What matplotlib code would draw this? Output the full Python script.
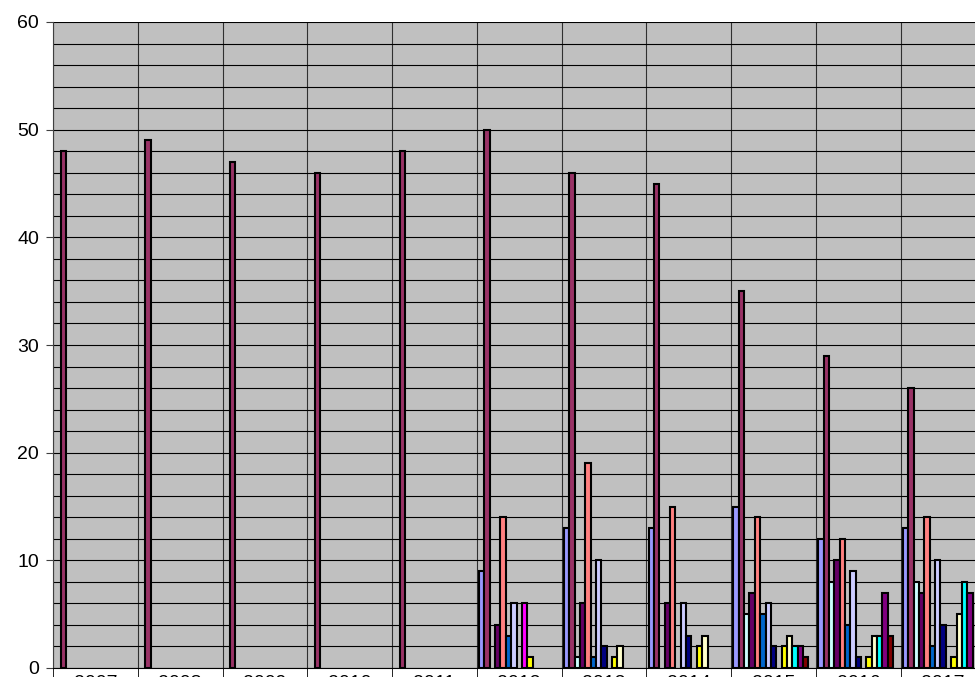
import numpy as np
import matplotlib
matplotlib.use("Agg")
import matplotlib.pyplot as plt
from matplotlib.ticker import MultipleLocator, FixedLocator

plt.rcParams['font.family'] = ['Liberation Sans', 'DejaVu Sans']

years = ['2007', '2008', '2009', '2010', '2011', '2012', '2013', '2014', '2015', '2016', '2017']

s_periwinkle = [0, 0, 0, 0, 0, 9, 13, 13, 15, 12, 13]
s_plum = [48, 49, 47, 46, 48, 50, 46, 45, 35, 29, 26]
s_lightcyan = [0, 0, 0, 0, 0, 0, 1, 0, 5, 8, 8]
s_darkpurple = [0, 0, 0, 0, 0, 4, 6, 6, 7, 10, 7]
s_salmon = [0, 0, 0, 0, 0, 14, 19, 15, 14, 12, 14]
s_blue = [0, 0, 0, 0, 0, 3, 1, 0, 5, 4, 2]
s_lavender = [0, 0, 0, 0, 0, 6, 10, 6, 6, 9, 10]
s_navy = [0, 0, 0, 0, 0, 0, 2, 3, 2, 1, 4]
s_magenta = [0, 0, 0, 0, 0, 6, 0, 0, 0, 0, 0]
s_yellow = [0, 0, 0, 0, 0, 1, 1, 2, 2, 1, 1]
s_lightyellow = [0, 0, 0, 0, 0, 0, 2, 3, 3, 3, 5]
s_cyan = [0, 0, 0, 0, 0, 0, 0, 0, 2, 3, 8]
s_purple = [0, 0, 0, 0, 0, 0, 0, 0, 2, 7, 7]
s_maroon = [0, 0, 0, 0, 0, 0, 0, 0, 1, 3, 0]

series = [s_periwinkle, s_plum, s_lightcyan, s_darkpurple, s_salmon, s_blue,
          s_lavender, s_navy, s_magenta, s_yellow, s_lightyellow, s_cyan,
          s_purple, s_maroon]
colors = ['#9999FF', '#993366', '#CCFFFF', '#660066', '#FF8080', '#0066CC',
          '#CCCCFF', '#000080', '#FF00FF', '#FFFF00', '#FFFFCC', '#00FFFF',
          '#800080', '#800000']

fig = plt.figure(figsize=(9.75, 6.77), dpi=100)
# plot area runs past the right edge of the picture, like the reference
ax = fig.add_axes([53 / 975, 1 - 668 / 677, 932.5 / 975, 646 / 677])
ax.set_facecolor('#C0C0C0')

n_slots = 15
w = 0.0632
start = -0.5 + (1 - n_slots * w) / 2
x = np.arange(len(years))
for k, (vals, c) in enumerate(zip(series, colors)):
    vals = np.array(vals, dtype=float)
    mask = vals > 0
    ax.bar(x[mask] + start + (k + 0.5) * w, vals[mask], width=w, color=c,
           edgecolor='black', linewidth=1.5, zorder=3)

ax.set_xlim(-0.5, len(years) - 0.5)
ax.set_ylim(0, 60)

ax.yaxis.set_major_locator(MultipleLocator(10))
ax.yaxis.set_minor_locator(MultipleLocator(2))
ax.set_xticks(x)
ax.set_xticklabels(years)
ax.xaxis.set_minor_locator(FixedLocator(np.arange(len(years) + 1) - 0.5))

ax.grid(which='both', axis='y', color='black', linewidth=0.8, zorder=1)
ax.grid(which='minor', axis='x', color='#303030', linewidth=0.8, zorder=1)
ax.set_axisbelow(True)

ax.tick_params(axis='y', which='major', labelsize=14, length=5, pad=5, color='#404040')
ax.tick_params(axis='y', which='minor', length=0)
ax.tick_params(axis='x', which='major', labelsize=14, length=0, pad=5)
ax.tick_params(axis='x', which='minor', length=10, color='black')

for side in ['top', 'right']:
    ax.spines[side].set_visible(False)
ax.spines['left'].set_color('#404040')
ax.spines['bottom'].set_color('black')

fig.savefig('out.png', dpi=100)
